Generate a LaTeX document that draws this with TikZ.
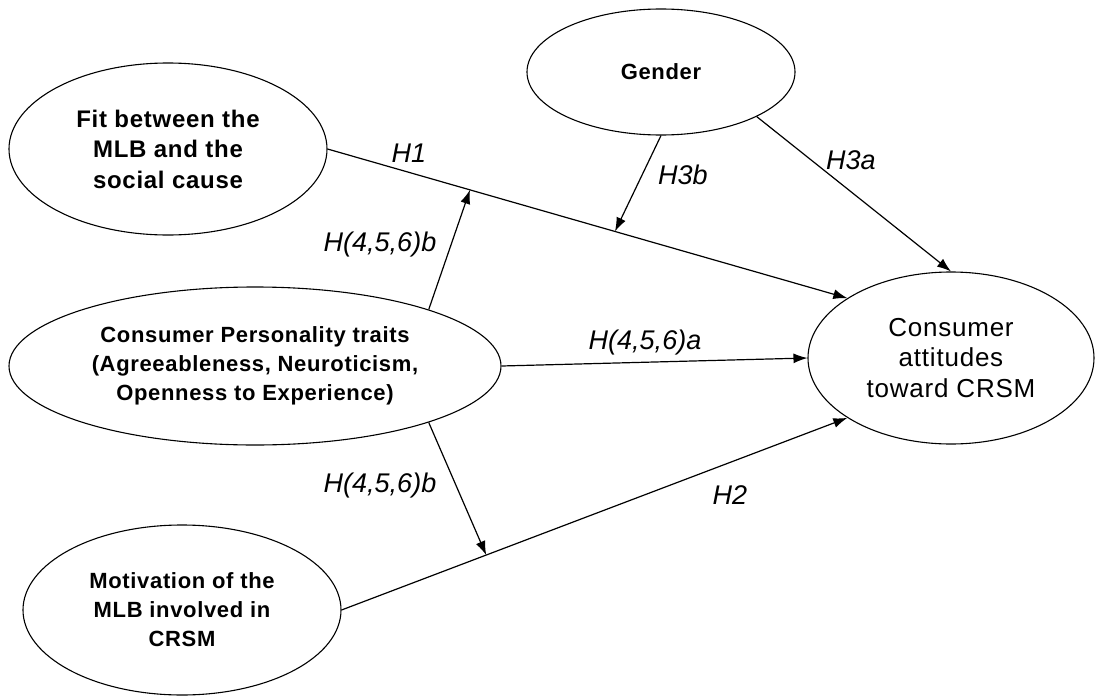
\documentclass[tikz,border=0pt]{standalone}
\usepackage{fontspec}
\setmainfont{Liberation Sans}
\newfontfamily\ovalfont[LetterSpace=3]{Liberation Sans}
\usepackage{tikz}
\usetikzlibrary{shapes.geometric}
\usetikzlibrary{arrows.meta}

\begin{document}
\begin{tikzpicture}[x=1pt,y=1pt,yscale=-1,xscale=1,
  oval/.style={draw, ellipse, line width=1.1pt, inner sep=0pt, align=center, text=black},
  boldoval/.style={oval, font=\ovalfont\bfseries\fontsize{22}{29}\selectfont},
  hyp/.style={line width=1.2pt, -{Latex[length=14pt,width=10pt]}},
  hlabel/.style={font=\itshape\fontsize{27}{30}\selectfont}]
\useasboundingbox (0,0) rectangle (1096,696);

%Shape: Ellipse
\node [boldoval, minimum width=268, minimum height=126] (gen) at (661,72) {Gender};
%Shape: Ellipse
\node [oval, minimum width=318, minimum height=172, font=\ovalfont\bfseries\fontsize{24}{30.5}\selectfont] (fit) at (168,149) {Fit between the\\MLB and the\\social cause};
%Shape: Ellipse
\node [boldoval, minimum width=492, minimum height=158] (cp) at (255,366) {Consumer Personality traits\\(Agreeableness, Neuroticism,\\Openness to Experience)};
%Shape: Ellipse
\node [boldoval, minimum width=318, minimum height=170] (mot) at (182,610) {Motivation of the\\MLB involved in\\CRSM};
%Shape: Ellipse
\node [oval, minimum width=286, minimum height=172, font=\ovalfont\fontsize{26}{30.5}\selectfont] (att) at (951,358) {Consumer\\attitudes\\toward CRSM};

%Straight Lines
\draw [hyp] (fit.east) -- (att.150) coordinate[pos=0.274] (fitmod) coordinate[pos=0.553] (genmod);
%Straight Lines
\draw [hyp] (mot.east) -- (att.210) coordinate[pos=0.286] (motmod);
%Straight Lines
\draw [hyp] (cp.east) -- (att.west);
%Straight Lines
\draw [hyp] (gen.-25) -- (att.north);
%Straight Lines
\draw [hyp] (gen.south) -- (genmod);
%Straight Lines
\draw [hyp] (cp.18) -- (fitmod);
%Straight Lines
\draw [hyp] (cp.-18) -- (motmod);

% Text Node
\node [hlabel] (h1) at (409,153) {H1};
% Text Node
\node [hlabel] (h3b) at (683,175) {H3b};
% Text Node
\node [hlabel] (h3a) at (851,160) {H3a};
% Text Node
\node [hlabel] (h456b) at (380,245) {H(4,5,6)b};
% Text Node
\node [hlabel] (h456a) at (645,343) {H(4,5,6)a};
% Text Node
\node [hlabel] (h456bb) at (380,486) {H(4,5,6)b};
% Text Node
\node [hlabel] (h2) at (730,495) {H2};

\end{tikzpicture}
\end{document}
